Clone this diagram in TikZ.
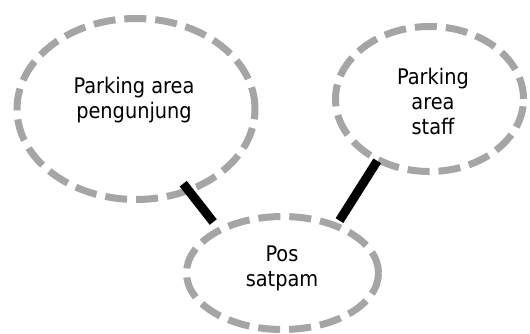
\documentclass[tikz,border=0pt]{standalone}
\usepackage{fontspec}
\setmainfont{DejaVu Sans Condensed}
\usetikzlibrary{shapes.geometric}
\definecolor{ringgray}{HTML}{A5A5A5}
\tikzset{
  ring/.style={ellipse, draw=ringgray, line width=7pt, dash pattern=on 22pt off 9pt, inner sep=0pt},
  lbl/.style={align=center, font=\fontsize{21.5}{25}\selectfont, text=black, inner sep=0pt},
  link/.style={line width=9pt, black}
}
\begin{document}
\begin{tikzpicture}[x=1pt,y=-1pt]
\useasboundingbox (0,0) rectangle (530,334);
\fill[white] (0,0) rectangle (530,334);
\node[ring, minimum width=238pt, minimum height=181pt] (e1) at (136,109) {};
\node[ring, minimum width=188pt, minimum height=145pt] (e2) at (429.5,99) {};
\node[ring, minimum width=192pt, minimum height=113pt] (e3) at (282.5,273) {};
\node[lbl] (t1) at (134,100) {Parking area\\pengunjung};
\node[lbl] (t2) at (433,101) {Parking\\area\\staff};
\node[lbl] (t3) at (282,268) {Pos\\satpam};
\draw[link, shorten <=-12pt, shorten >=7pt] (e1.-57) -- (e3.145.6);
\draw[link, shorten <=-2pt, shorten >=3pt] (e2.-130) -- (e3.42);
\end{tikzpicture}
\end{document}
